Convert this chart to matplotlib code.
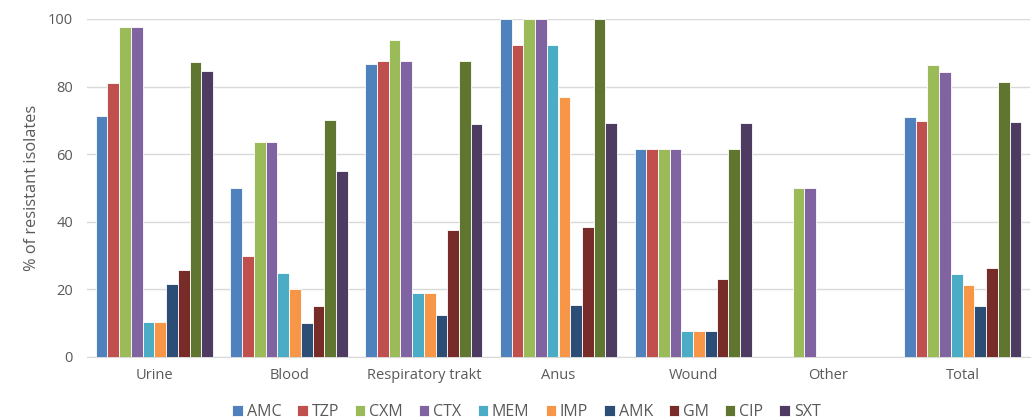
import numpy as np
import matplotlib.pyplot as plt

# ── Data ─────────────────────────────────────────────────────────────────────
SITES = ['Urine', 'Blood', 'Respiratory trakt', 'Anus', 'Wound', 'Other', 'Total']
DRUGS = ['AMC', 'TZP', 'CXM', 'CTX', 'MEM', 'IMP', 'AMK', 'GM', 'CIP', 'SXT']

AMC = [71.4, 50.0, 86.7, 100.0, 61.5, 0.0, 71.0]
TZP = [81.0, 30.0, 87.5, 92.3, 61.5, 0.0, 69.8]
CXM = [97.5, 63.6, 93.8, 100.0, 61.5, 50.0, 86.3]
CTX = [97.5, 63.6, 87.5, 100.0, 61.5, 50.0, 84.4]
MEM = [10.3, 25.0, 18.8, 92.3, 7.7, 0.0, 24.5]
IMP = [10.3, 20.0, 18.8, 76.9, 7.7, 0.0, 21.4]
AMK = [21.5, 10.0, 12.5, 15.4, 7.7, 0.0, 15.0]
GM  = [25.6, 15.0, 37.5, 38.5, 23.1, 0.0, 26.4]
CIP = [87.2, 70.0, 87.5, 100.0, 61.5, 0.0, 81.3]
SXT = [84.6, 55.0, 68.8, 69.2, 69.2, 0.0, 69.4]

SERIES = [AMC, TZP, CXM, CTX, MEM, IMP, AMK, GM, CIP, SXT]
COLORS = ['#4F81BD', '#C0504D', '#9BBB59', '#8064A2', '#4BACC6',
          '#F79646', '#2C4D75', '#772C2A', '#5F7530', '#4D3B62']

# ── Style ────────────────────────────────────────────────────────────────────
plt.rcParams['font.family'] = ['Open Sans', 'DejaVu Sans']
TXT = '#595959'

fig = plt.figure(figsize=(10.32, 4.2), dpi=100)
ax = fig.add_axes([87 / 1032, 63 / 420, 943 / 1032, 338 / 420])

x = np.arange(len(SITES))
slot = 0.087
for i, (vals, col, name) in enumerate(zip(SERIES, COLORS, DRUGS)):
    off = (i - 4.5) * slot
    ax.bar(x + off, vals, slot, color=col, edgecolor='white', linewidth=0.6,
           label=name, zorder=3)

ax.set_xlim(-0.5, len(SITES) - 0.5)
ax.set_ylim(0, 100)
ax.set_yticks(range(0, 101, 20))
ax.grid(axis='y', color='#D9D9D9', linewidth=1, zorder=0)
for s in ['top', 'right', 'left']:
    ax.spines[s].set_visible(False)
ax.spines['bottom'].set_color('#D9D9D9')
ax.tick_params(axis='both', length=0, colors=TXT, labelsize=10.5)
ax.tick_params(axis='x', pad=8)
ax.tick_params(axis='y', pad=10)
ax.set_xticks(x)
ax.set_xticklabels(SITES)
ax.set_ylabel('% of resistant isolates', color=TXT, fontsize=11.8, labelpad=6)

ax.legend(loc='lower center', bbox_to_anchor=(0.466, -0.215), ncol=10,
          frameon=False, fontsize=11.5, handlelength=0.65, handleheight=0.65,
          handletextpad=0.25, columnspacing=1.0, labelcolor=TXT,
          borderpad=0.1)

fig.savefig('out.png', dpi=100)
